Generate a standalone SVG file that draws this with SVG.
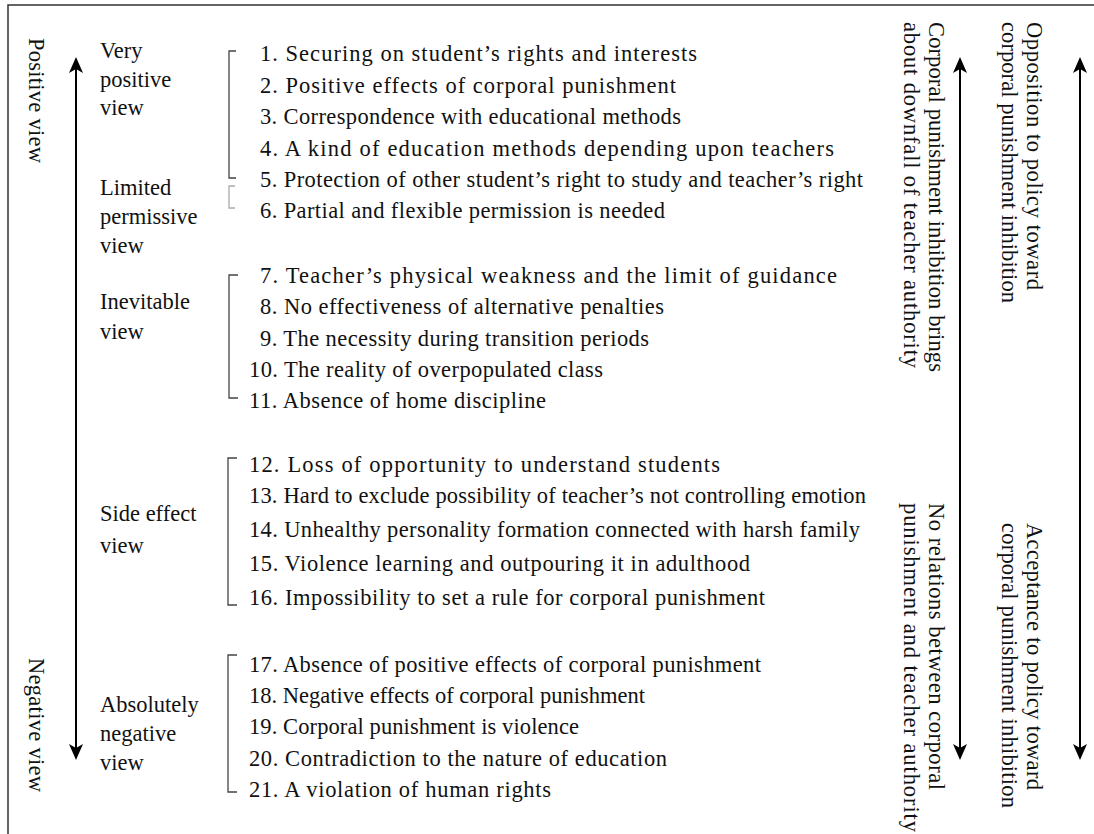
<svg xmlns="http://www.w3.org/2000/svg" width="1094" height="834" viewBox="0 0 1094 834">
<style>
text{font-family:"Liberation Serif","Times New Roman",serif;font-size:22.5px;fill:#111}
.br{fill:none;stroke:#444;stroke-width:1.3}
.br2{fill:none;stroke:#aaa;stroke-width:1.3}
.ax{stroke:#000;stroke-width:2;fill:none;marker-start:url(#ah);marker-end:url(#ah)}
.frame{stroke:#333;stroke-width:1.5;fill:none}
</style>
<defs>
<marker id="ah" viewBox="0 0 16 16" refX="5" refY="8" markerWidth="16" markerHeight="16" markerUnits="userSpaceOnUse" orient="auto-start-reverse">
<path d="M0,1 L16,8 L0,15 L4,8 Z" fill="#000"/>
</marker>
</defs>
<path class="frame" d="M8,834 V5 H1094"/>

<g id="connectors">
<line class="ax" x1="76" y1="68" x2="76" y2="749"/>
<line class="ax" x1="960" y1="68" x2="960" y2="749"/>
<line class="ax" x1="1080" y1="68" x2="1080" y2="749"/>
</g>

<g id="axis-left">
<text transform="translate(29,38) rotate(90)" textLength="125">Positive view</text>
<text transform="translate(29,658) rotate(90)" textLength="134">Negative view</text>
</g>

<g id="axis-right-policy">
<text transform="translate(1027,22) rotate(90)" textLength="268">Opposition to policy toward</text>
<text transform="translate(1002,22) rotate(90)" textLength="281">corporal punishment inhibition</text>
<text transform="translate(1027,523) rotate(90)" textLength="267">Acceptance to policy toward</text>
<text transform="translate(1002,523) rotate(90)" textLength="285">corporal punishment inhibition</text>
</g>

<g id="axis-right-authority">
<text transform="translate(929,22) rotate(90)" textLength="350">Corporal punishment inhibition brings</text>
<text transform="translate(904,22) rotate(90)" textLength="346">about downfall of teacher authority</text>
<text transform="translate(929,503) rotate(90)" textLength="287">No relations between corporal</text>
<text transform="translate(904,503) rotate(90)" textLength="329">punishment and teacher authority</text>
</g>

<g id="very-positive">
<text x="100" y="58">Very</text>
<text x="100" y="87">positive</text>
<text x="100" y="115">view</text>
<path class="br" d="M236,51 H229 V178 H236"/>
<text x="260" y="61" textLength="437">1. Securing on student’s rights and interests</text>
<text x="260" y="92.5" textLength="416">2. Positive effects of corporal punishment</text>
<text x="260" y="124" textLength="421">3. Correspondence with educational methods</text>
<text x="260" y="155.5" textLength="574">4. A kind of education methods depending upon teachers</text>
</g>

<g id="limited-permissive">
<text x="100" y="195">Limited</text>
<text x="100" y="224">permissive</text>
<text x="100" y="253">view</text>
<path class="br2" d="M235,186 H229 V208 H235"/>
<text x="260" y="187" textLength="603">5. Protection of other student’s right to study and  teacher’s right</text>
<text x="260" y="218" textLength="405">6. Partial and flexible permission is needed</text>
</g>

<g id="inevitable">
<text x="100" y="309">Inevitable</text>
<text x="100" y="339">view</text>
<path class="br" d="M238,275 H229 V398 H238"/>
<text x="260" y="283" textLength="577">7. Teacher’s physical weakness and the limit of guidance</text>
<text x="260" y="314" textLength="404">8. No effectiveness of alternative penalties</text>
<text x="260" y="346" textLength="389">9. The necessity during transition periods</text>
<text x="249" y="377" textLength="354">10. The reality of overpopulated class</text>
<text x="249" y="408" textLength="297">11. Absence of home discipline</text>
</g>

<g id="side-effect">
<text x="100" y="521">Side effect</text>
<text x="100" y="553">view</text>
<path class="br" d="M237,458 H228 V605 H237"/>
<text x="249" y="472" textLength="471">12. Loss of opportunity to understand students</text>
<text x="249" y="503" textLength="617">13. Hard to exclude possibility of teacher’s not controlling emotion</text>
<text x="249" y="537" textLength="611">14. Unhealthy personality formation connected with harsh family</text>
<text x="249" y="571" textLength="501">15. Violence learning and outpouring it in adulthood</text>
<text x="249" y="605" textLength="516">16. Impossibility to set a rule for corporal punishment</text>
</g>

<g id="absolutely-negative">
<text x="100" y="712">Absolutely</text>
<text x="100" y="741">negative</text>
<text x="100" y="770">view</text>
<path class="br" d="M237,655 H228 V792 H237"/>
<text x="249" y="672" textLength="512">17. Absence of positive effects of corporal punishment</text>
<text x="249" y="703" textLength="396">18. Negative effects of corporal punishment</text>
<text x="249" y="734" textLength="330">19. Corporal punishment is violence</text>
<text x="249" y="766" textLength="418">20. Contradiction to the nature of education</text>
<text x="249" y="797" textLength="302">21. A violation of human rights</text>
</g>
</svg>
